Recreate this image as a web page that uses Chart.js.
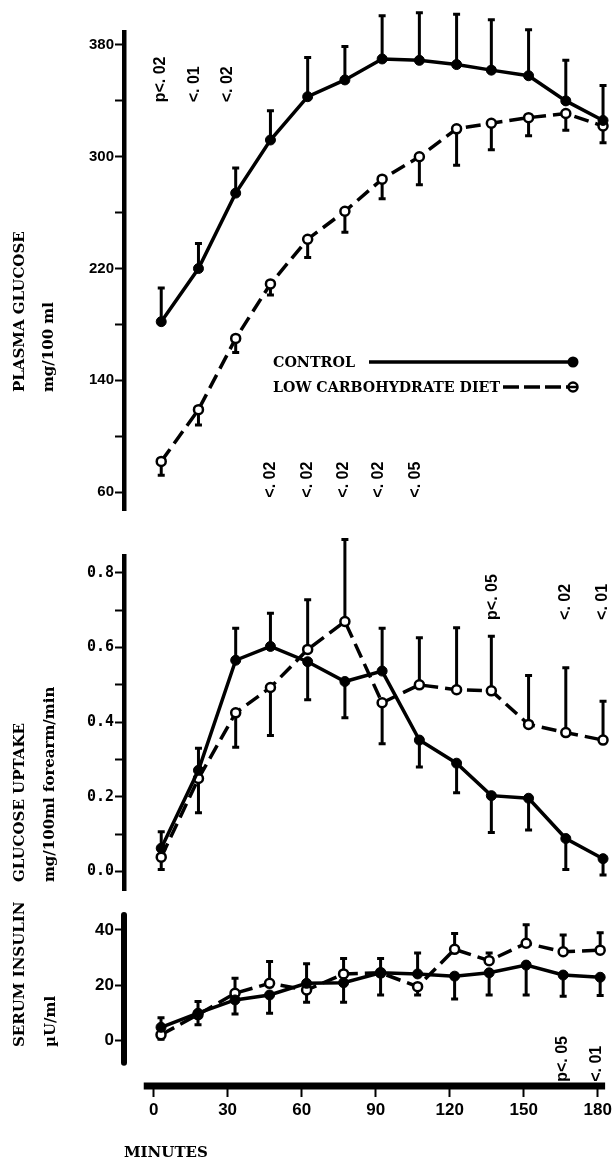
<!DOCTYPE html>
<html>
<head>
<meta charset="utf-8">
<script src="https://cdn.jsdelivr.net/npm/chart.js@4.4.1/dist/chart.umd.min.js"></script>
<style>
  body { margin: 0; background: #fff; }
  #page { position: relative; width: 615px; height: 1161px; background: #fff; }
  #page canvas { position: absolute; left: 0; }
</style>
</head>
<body>
<div id="page">
  <canvas id="glucose" width="615" height="520" style="top:0px"></canvas>
  <canvas id="uptake" width="615" height="380" style="top:520px"></canvas>
  <canvas id="insulin" width="615" height="261" style="top:900px"></canvas>
</div>
<script>
// sampling times as plotted (minutes)
const minutes = [3, 18, 33, 47, 62, 77, 92, 107, 122, 136, 151, 166, 181];
const minuteTicks = [0, 30, 60, 90, 120, 150, 180];

// plasma glucose, mg/100 ml  (Err = far end of the error bar)
const glucoseControl = [182, 220, 274, 312, 343, 355, 370, 369, 366, 362, 358, 340, 326];
const glucoseControlErr = [206, 238, 292, 333, 371, 379, 401, 403, 402, 398, 391, 369, 351];
const glucoseLowCarb = [82, 119, 170, 209, 241, 261, 284, 300, 320, 324, 328, 331, 322];
const glucoseLowCarbErr = [72, 108, 160, 201, 228, 246, 270, 280, 294, 305, 315, 319, 310];
const glucoseTicks = [60, 100, 140, 180, 220, 260, 300, 340, 380];
const glucoseLabels = [60, 140, 220, 300, 380];
const glucoseP = ['p<. 02', '<. 01', '<. 02', '<. 02', '<. 02', '<. 02', '<. 02', '<. 05'];
const glucosePMin = [2.8, 16.4, 29.7, 47, 62, 76.6, 90.6, 105.5];
const glucosePAt = [339, 339, 339, 56, 56, 56, 56, 56];

// glucose uptake, mg/100ml forearm/min
const uptakeControl = [0.062, 0.271, 0.566, 0.603, 0.562, 0.509, 0.537, 0.352, 0.290, 0.203, 0.196, 0.088, 0.034];
const uptakeControlErr = [0.106, 0.330, 0.652, 0.692, 0.460, 0.412, 0.652, 0.280, 0.211, 0.104, 0.111, 0.005, -0.010];
const uptakeLowCarb = [0.038, 0.249, 0.425, 0.493, 0.595, 0.670, 0.452, 0.500, 0.487, 0.484, 0.394, 0.372, 0.352];
const uptakeLowCarbErr = [0.005, 0.157, 0.333, 0.364, 0.728, 0.890, 0.342, 0.626, 0.653, 0.630, 0.525, 0.546, 0.456];
const uptakeTicks = [0, 0.1, 0.2, 0.3, 0.4, 0.5, 0.6, 0.7, 0.8];
const uptakeP = ['p<. 05', '<. 02', '<. 01'];
const uptakePMin = [136.7, 166, 181];
const uptakePAt = [0.674, 0.674, 0.674];

// serum insulin, µU/ml
const insulinControl = [4.8, 9.9, 14.7, 16.5, 20.7, 20.9, 24.5, 24.1, 23.3, 24.5, 27.3, 23.7, 22.9];
const insulinControlErr = [8.3, 14.1, 9.6, 9.9, 27.8, 13.9, 16.5, 31.7, 15.0, 16.5, 16.5, 16.0, 16.3];
const insulinLowCarb = [2.1, 9.4, 17.1, 20.7, 18.3, 24.1, 24.5, 19.5, 33.0, 28.9, 35.2, 32.1, 32.7];
const insulinLowCarbErr = [0.5, 5.7, 22.5, 28.6, 13.9, 29.7, 29.7, 16.5, 38.7, 31.7, 41.9, 38.2, 39.0];
const insulinTicks = [0, 20, 40];
const insulinP = ['p<. 05', '<. 01'];
const insulinPMin = [165.6, 179.6];
const insulinPAt = [-14.9, -14.9];

const BLACK = '#000';
const serifBold = "bold 15px 'DejaVu Serif', serif";
const sansBold = "bold 16px 'Liberation Sans', Arial, sans-serif";

function pts(vals) {
  return vals.map((v, i) => ({ x: minutes[i], y: v }));
}

function series(label, vals, control) {
  return {
    label: label,
    data: pts(vals),
    borderColor: BLACK,
    borderWidth: 3.5,
    borderDash: control ? [] : [15, 7],
    pointRadius: control ? 5 : 4.5,
    pointBorderWidth: control ? 1 : 2.5,
    pointBorderColor: BLACK,
    pointBackgroundColor: control ? BLACK : '#fff',
    tension: 0,
    clip: false
  };
}

function rotatedText(ctx, text, x, y, font) {
  ctx.save();
  ctx.translate(x, y);
  ctx.rotate(-Math.PI / 2);
  ctx.font = font;
  ctx.fillStyle = BLACK;
  ctx.textAlign = 'left';
  ctx.textBaseline = 'middle';
  ctx.fillText(text, 0, 0);
  ctx.restore();
}

// error bars, axis lines, rotated labels, legend
const extras = {
  id: 'extras',
  beforeDatasetsDraw(chart, args, opts) {
    const { ctx, scales: { x, y } } = chart;
    ctx.save();
    ctx.strokeStyle = BLACK;
    ctx.lineWidth = 3;
    (opts.errors || []).forEach(([vals, ends]) => {
      vals.forEach((v, i) => {
        const px = x.getPixelForValue(minutes[i]);
        const y0 = y.getPixelForValue(v);
        const y1 = y.getPixelForValue(ends[i]);
        ctx.beginPath();
        ctx.moveTo(px, y0);
        ctx.lineTo(px, y1);
        ctx.moveTo(px - 3.5, y1);
        ctx.lineTo(px + 3.5, y1);
        ctx.stroke();
      });
    });
    ctx.restore();
  },
  afterDraw(chart, args, opts) {
    const { ctx, chartArea, scales: { x, y } } = chart;
    ctx.save();
    ctx.strokeStyle = BLACK;
    ctx.lineCap = 'round';
    if (opts.yLine) {
      ctx.lineWidth = 6;
      ctx.beginPath();
      ctx.moveTo(chartArea.left, y.getPixelForValue(opts.yLine[0]));
      ctx.lineTo(chartArea.left, y.getPixelForValue(opts.yLine[1]));
      ctx.stroke();
    }
    if (opts.xLine) {
      ctx.lineWidth = 7;
      ctx.lineCap = 'butt';
      ctx.beginPath();
      ctx.moveTo(x.getPixelForValue(opts.xLine[0]), chartArea.bottom);
      ctx.lineTo(x.getPixelForValue(opts.xLine[1]), chartArea.bottom);
      ctx.stroke();
    }
    ctx.restore();

    (opts.titles || []).forEach(t => rotatedText(ctx, t[0], t[1], t[2], serifBold));

    if (opts.pvals) {
      const [texts, mins, ats] = opts.pvals;
      texts.forEach((t, i) => {
        rotatedText(ctx, t, x.getPixelForValue(mins[i]), y.getPixelForValue(ats[i]), sansBold);
      });
    }

    if (opts.legend) {
      ctx.save();
      ctx.font = serifBold;
      ctx.fillStyle = BLACK;
      ctx.strokeStyle = BLACK;
      ctx.textBaseline = 'middle';
      ctx.fillText('CONTROL', 273, 363, 82);
      ctx.fillText('LOW CARBOHYDRATE DIET', 273, 388, 227);
      ctx.lineWidth = 3.5;
      ctx.beginPath();
      ctx.moveTo(369, 362);
      ctx.lineTo(573, 362);
      ctx.stroke();
      ctx.beginPath();
      ctx.arc(573, 362, 5.5, 0, Math.PI * 2);
      ctx.fill();
      ctx.setLineDash([16, 5]);
      ctx.beginPath();
      ctx.moveTo(503, 387);
      ctx.lineTo(573, 387);
      ctx.stroke();
      ctx.setLineDash([]);
      ctx.lineWidth = 2.5;
      ctx.beginPath();
      ctx.arc(573, 387, 4.5, 0, Math.PI * 2);
      ctx.fillStyle = '#fff';
      ctx.fill();
      ctx.stroke();
      ctx.beginPath();
      ctx.moveTo(568, 387);
      ctx.lineTo(578, 387);
      ctx.stroke();
      ctx.restore();
    }
  }
};

const xHidden = { type: 'linear', min: -12, max: 183, display: false };

function yAxis(min, max, ticks, fmt, font, border) {
  return {
    type: 'linear',
    min: min,
    max: max,
    afterFit: s => { s.width = 124; },
    afterBuildTicks: s => { s.ticks = ticks.map(v => ({ value: v })); },
    border: { display: border, width: 4.5, color: BLACK },
    grid: { drawOnChartArea: false, drawTicks: true, tickLength: 9, tickWidth: 2, tickColor: BLACK },
    ticks: { callback: fmt, font: font, color: BLACK, padding: 1, autoSkip: false }
  };
}

function baseOptions(padding, scales, extrasOpts) {
  return {
    responsive: false,
    animation: false,
    devicePixelRatio: 1,
    layout: { padding: padding },
    plugins: { legend: { display: false }, tooltip: { enabled: false }, extras: extrasOpts },
    scales: scales
  };
}

// plasma glucose
new Chart(document.getElementById('glucose'), {
  type: 'line',
  data: { datasets: [
    series('CONTROL', glucoseControl, true),
    series('LOW CARBOHYDRATE DIET', glucoseLowCarb, false)
  ] },
  options: baseOptions(
    { top: 32.7, bottom: 7, left: 0, right: 4.6 },
    {
      x: xHidden,
      y: yAxis(47.2, 388.8, glucoseTicks,
        v => glucoseLabels.includes(v) ? String(v) : '',
        { family: "'Liberation Sans', Arial, sans-serif", size: 15, weight: 'bold' }, true)
    },
    {
      errors: [[glucoseControl, glucoseControlErr], [glucoseLowCarb, glucoseLowCarbErr]],
      titles: [['PLASMA GLUCOSE', 20, 392], ['mg/100 ml', 49, 392]],
      pvals: [glucoseP, glucosePMin, glucosePAt],
      legend: true
    }
  ),
  plugins: [extras]
});

// glucose uptake
new Chart(document.getElementById('uptake'), {
  type: 'line',
  data: { datasets: [
    series('CONTROL', uptakeControl, true),
    series('LOW CARBOHYDRATE DIET', uptakeLowCarb, false)
  ] },
  options: baseOptions(
    { top: 36.7, bottom: 5, left: 0, right: 4.6 },
    {
      x: xHidden,
      y: yAxis(-0.05, 0.8436, uptakeTicks,
        v => Math.round(v * 10) % 2 === 0 ? v.toFixed(1) : '',
        { family: "'DejaVu Sans Mono', monospace", size: 15, weight: 'bold' }, true)
    },
    {
      errors: [[uptakeControl, uptakeControlErr], [uptakeLowCarb, uptakeLowCarbErr]],
      titles: [['GLUCOSE UPTAKE', 20, 362], ['mg/100ml forearm/min', 50, 362]],
      pvals: [uptakeP, uptakePMin, uptakePAt]
    }
  ),
  plugins: [extras]
});

// serum insulin, with the shared minutes axis
const narrow = { family: "'Liberation Sans Narrow', 'Liberation Sans', Arial, sans-serif", size: 17, weight: 'bold' };
new Chart(document.getElementById('insulin'), {
  type: 'line',
  data: { datasets: [
    series('CONTROL', insulinControl, true),
    series('LOW CARBOHYDRATE DIET', insulinLowCarb, false)
  ] },
  options: baseOptions(
    { top: 15, bottom: 0, left: 0, right: 4.6 },
    {
      x: {
        type: 'linear',
        min: -12,
        max: 183,
        afterFit: s => { s.height = 75; },
        afterBuildTicks: s => { s.ticks = minuteTicks.map(v => ({ value: v })); },
        border: { display: false },
        grid: { drawOnChartArea: false, drawTicks: true, tickLength: 11, tickWidth: 2, tickColor: BLACK },
        ticks: { font: narrow, color: BLACK, padding: 3, maxRotation: 0, autoSkip: false },
        title: {
          display: true,
          text: 'MINUTES',
          align: 'start',
          color: BLACK,
          font: { family: "'DejaVu Serif', serif", size: 15, weight: 'bold', lineHeight: 1.1 },
          padding: { top: 0, bottom: 0 }
        }
      },
      y: yAxis(-16.4, 45.4, insulinTicks, v => String(v), narrow, false)
    },
    {
      errors: [[insulinControl, insulinControlErr], [insulinLowCarb, insulinLowCarbErr]],
      titles: [['SERUM INSULIN', 20, 147], ['\u00b5U/ml', 51, 147]],
      pvals: [insulinP, insulinPMin, insulinPAt],
      yLine: [45.4, -8],
      xLine: [-4, 183]
    }
  ),
  plugins: [extras]
});
</script>
</body>
</html>
